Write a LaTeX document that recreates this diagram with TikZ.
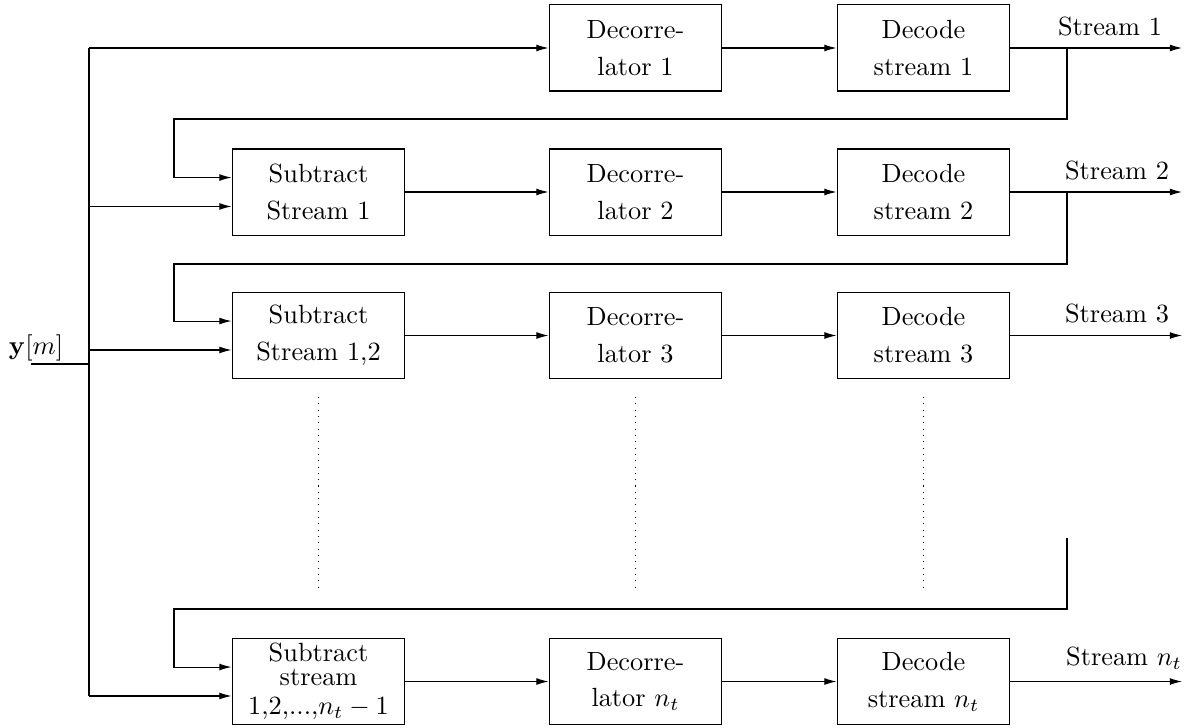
\documentclass[tikz,border=0pt]{standalone}
\usepackage{amsmath}
\usetikzlibrary{arrows.meta}

\begin{document}
\begin{tikzpicture}[x=0.38pt, y=-0.38pt,
    blk/.style={draw, align=center, minimum width=65.7pt, minimum height=32.7pt, inner sep=2pt},
    arr/.style={-{Latex[length=4.6pt, width=2.6pt]}},
    lbl/.style={anchor=south, inner sep=4.5pt},
  ]
  \useasboundingbox (0,0) rectangle (1191,727);

  % ---- decorrelator and decoder columns ----
  \foreach \r/\yy/\lab in {1/48/1, 2/192/2, 3/335.5/3, n/681.5/{$n_t$}}{
    \node[blk] (D\r) at (635.5,\yy) {Decorre-\\[2pt]lator \lab};
    \node[blk] (C\r) at (923.5,\yy) {Decode\\[2pt]stream \lab};
  }

  % ---- subtraction column ----
  \node[blk] (S2) at (318.5,192)   {Subtract\\[2pt]Stream 1};
  \node[blk] (S3) at (318.5,335.5) {Subtract\\[2pt]Stream 1,2};
  \node[blk, inner sep=1pt] (Sn) at (318.5,681.5) {Subtract\\[-3pt]stream\\[-1pt]1,2,...,$n_t-1$};

  % ---- helper coordinates ----
  \coordinate (yin) at (31,364);
  \coordinate (bus) at (89,364);
  \coordinate (fbx) at (1067,0);
  \coordinate (fbl) at (174,0);
  \coordinate (outx) at (1182,0);
  \foreach \r in {2,3,n}{
    \coordinate (S\r in) at ([yshift=-5.5pt]S\r.west);
    \coordinate (S\r fb) at ([yshift=5.5pt]S\r.west);
  }

  % ---- input y[m] and bus ----
  \node[anchor=south, inner sep=1pt] (ylab) at (36,364) {$\mathbf{y}[m]$};
  \draw (yin) -- (bus);
  \draw (bus |- D1) -- (bus |- Snin);
  \draw[arr] (bus |- D1) -- (D1);
  \foreach \r in {2,3,n}{
    \draw[arr] (bus |- S\r in) -- (S\r in);
  }

  % ---- chain along each row ----
  \foreach \r in {2,3,n}{
    \draw[arr] (S\r) -- (D\r);
  }
  \foreach \r in {1,2,3,n}{
    \draw[arr] (D\r) -- (C\r);
    \draw[arr] (C\r.east) -- (outx |- C\r);
  }

  % ---- output labels ----
  \foreach \r/\xx/\lab in {1/1110/1, 2/1117/2, 3/1117/3, n/1124/{$n_t$}}{
    \coordinate (ox\r) at (\xx,0);
    \node[lbl] (O\r) at (ox\r |- C\r) {Stream \lab};
  }

  % ---- feedback of decoded streams ----
  \coordinate (fb1) at (1067,119);
  \coordinate (fb2) at (1067,264);
  \coordinate (fbn) at (1067,609);
  \draw[arr] (fbx |- C1) -- (fb1) -- (fbl |- fb1) -- (fbl |- S2fb) -- (S2fb);
  \draw[arr] (fbx |- C2) -- (fb2) -- (fbl |- fb2) -- (fbl |- S3fb) -- (S3fb);
  \draw[arr] (1067,538) -- (fbn) -- (fbl |- fbn) -- (fbl |- Snfb) -- (Snfb);

  % ---- dots between rows ----
  \foreach \c in {S3,D3,C3}{
    \draw[dotted] (\c.south) ++(0,18) coordinate (t\c) -- (t\c |- 0,592);
  }
\end{tikzpicture}
\end{document}
